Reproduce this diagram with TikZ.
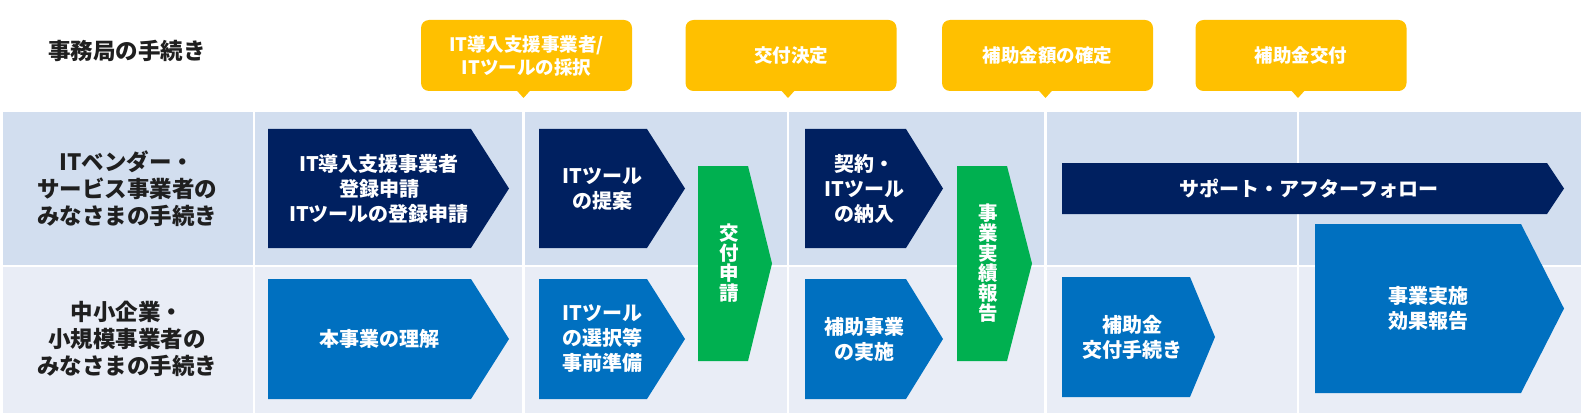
\documentclass[tikz,border=0pt]{standalone}
\usepackage{fontspec}
\setmainfont{Noto Sans CJK JP}
\usetikzlibrary{positioning,calc}
\definecolor{cnavy}{HTML}{002060}
\definecolor{cblue}{HTML}{0070C0}
\definecolor{cgreen}{HTML}{00B050}
\definecolor{cgold}{HTML}{FFC000}
\definecolor{rowa}{HTML}{D2DEEF}
\definecolor{rowb}{HTML}{E9EDF6}
\tikzset{
  callout style/.style={rectangle, rounded corners=8pt, fill=cgold, minimum width=211pt,
    minimum height=71pt, align=center, text=white, inner sep=0pt,
    font=\fontsize{18.5}{23}\selectfont\bfseries},
  box text/.style={align=center, text=white, inner sep=0pt,
    font=\fontsize{20}{25}\selectfont\bfseries},
  vert text/.style={align=center, text=white, inner sep=0pt,
    font=\fontsize{19.5}{20}\selectfont\bfseries},
  lane label/.style={align=center, text=black!88, inner sep=0pt,
    font=\fontsize{22.5}{27}\selectfont\bfseries},
  sep line/.style={white, line width=2.5pt}
}
% pentagon arrow: name, colour, x1, y1, x2, y2, tip depth, text
\newcommand{\flowchev}[8]{%
  \fill[#2] (#3,#4) -- ({#5-#7},#4) -- (#5,{(#4+#6)/2}) -- ({#5-#7},#6) -- (#3,#6) -- cycle;
  \node[box text] (#1) at ({(#3+#5)/2-#7/4},{(#4+#6)/2}) {#8};}

\begin{document}
\begin{tikzpicture}[x=1pt, y=-1pt]
\useasboundingbox (0,0) rectangle (1587,417);
% lanes
\fill[rowa] (3,112) rectangle (1581,266);
\fill[rowb] (3,266) rectangle (1581,413);
\draw[sep line] (3,266) -- (1581,266);
\foreach \x in {254,523.5,788,1045.5,1298}
  \draw[sep line] (\x,112) -- (\x,413);

% lane labels
\node[lane label] (office) at (127,51) {事務局の手続き};
\node[lane label] (vendor) at (127,188.5) {ITベンダー・\\サービス事業者の\\みなさまの手続き};
\node[lane label] (sme) at (127,339) {中小企業・\\小規模事業者の\\みなさまの手続き};

% vendor steps
\flowchev{v1}{cnavy}{268}{129}{509}{248}{38}{IT導入支援事業者\\登録申請\\ITツールの登録申請}
\flowchev{v2}{cnavy}{539}{129}{685}{248}{38}{ITツール\\の提案}
\flowchev{v3}{cnavy}{805}{129}{943}{248}{37}{契約・\\ITツール\\の納入}
\flowchev{v4}{cnavy}{1062}{163}{1564}{214}{17}{サポート・アフターフォロー}

% SME steps
\flowchev{s1}{cblue}{268}{279}{509}{399}{38}{本事業の理解}
\flowchev{s2}{cblue}{539}{279}{685}{399}{38}{ITツール\\の選択等\\事前準備}
\flowchev{s3}{cblue}{805}{279}{943}{399}{37}{補助事業\\の実施}
\flowchev{s4}{cblue}{1062}{277}{1215}{397}{25}{補助金\\交付手続き}
\flowchev{s5}{cblue}{1315}{224}{1564}{393}{43}{事業実施\\効果報告}

% applications spanning both lanes
\flowchev{g1}{cgreen}{698}{166}{772}{361}{24}{}
\node[vert text] at (g1) {交\\付\\申\\請};
\flowchev{g2}{cgreen}{957}{166}{1032}{361}{25}{}
\node[vert text] at (g2) {事\\業\\実\\績\\報\\告};

% office milestones
\node[callout style] (c1) at (526.5,55.5) {IT導入支援事業者/\\ITツールの採択};
\node[callout style] (c2) at (791,55.5) {交付決定};
\node[callout style] (c3) at (1047.5,55.5) {補助金額の確定};
\node[callout style] (c4) at (1301,55.5) {補助金交付};
\coordinate (d1) at (523.5,98);
\coordinate (d2) at (788,98);
\coordinate (d3) at (1045.5,98);
\coordinate (d4) at (1298,98);
\foreach \i in {1,2,3,4}
  \fill[cgold] ([xshift=-7pt,yshift=1pt]d\i |- c\i.south) -- (d\i)
    -- ([xshift=7pt,yshift=1pt]d\i |- c\i.south) -- cycle;
\end{tikzpicture}
\end{document}
